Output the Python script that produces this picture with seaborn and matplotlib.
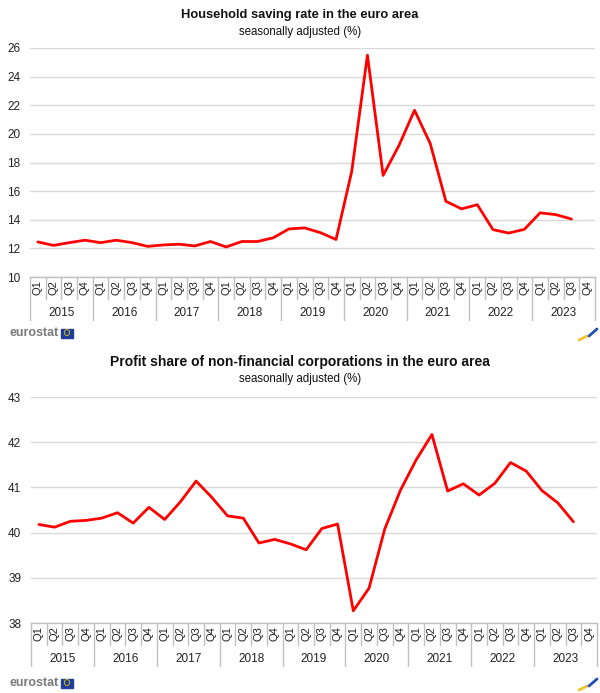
import matplotlib
matplotlib.use("Agg")
import matplotlib.pyplot as plt
import matplotlib.transforms as mtransforms
from matplotlib.patches import Rectangle, Circle
import numpy as np
import seaborn as sns

YEARS = [2015, 2016, 2017, 2018, 2019, 2020, 2021, 2022, 2023]
QUARTERS = ["Q1", "Q2", "Q3", "Q4"]

# household saving rate, % (2015Q1 .. 2023Q3)
SAVING_RATE = [
    12.45, 12.21, 12.40, 12.57,
    12.40, 12.57, 12.40, 12.14,
    12.24, 12.29, 12.17, 12.48,
    12.10, 12.48, 12.48, 12.74,
    13.36, 13.43, 13.10, 12.62,
    17.38, 25.50, 17.10, 19.17,
    21.65, 19.33, 15.29, 14.76,
    15.05, 13.31, 13.07, 13.33,
    14.48, 14.36, 14.05,
]

# profit share of non-financial corporations, % (2015Q1 .. 2023Q3)
PROFIT_SHARE = [
    40.18, 40.12, 40.25, 40.27,
    40.32, 40.44, 40.21, 40.56,
    40.29, 40.68, 41.14, 40.78,
    40.37, 40.32, 39.77, 39.85,
    39.75, 39.62, 40.09, 40.19,
    38.27, 38.77, 40.08, 40.94,
    41.61, 42.17, 40.92, 41.08,
    40.83, 41.09, 41.55, 41.36,
    40.93, 40.66, 40.24,
]

SAVING_TICKS = [10, 12, 14, 16, 18, 20, 22, 24, 26]
PROFIT_TICKS = [38, 39, 40, 41, 42, 43]

W, H = 600, 693
GRID = "#d9d9d9"
FRAME = "#c0c0c0"
RED = "#ff0000"

sns.set_theme(style="white")
plt.rcParams["font.family"] = ["Liberation Sans", "DejaVu Sans"]

fig = plt.figure(figsize=(W / 100, H / 100), dpi=100)


def fig_box(left, top, right, bottom):
    return [left / W, 1 - bottom / H, (right - left) / W, (bottom - top) / H]


def draw_panel(ax, values, ticks, title, title_y, title_size):
    n = len(YEARS) * len(QUARTERS)
    x = np.arange(len(values))
    sns.lineplot(x=x, y=values, ax=ax, color=RED, linewidth=2.0)
    ax.set_xlim(-0.5, n - 0.5)
    ax.set_ylim(ticks[0], ticks[-1])
    ax.set_yticks(ticks)
    ax.set_yticklabels([str(t) for t in ticks], fontsize=8.5, color="#222222")
    ax.tick_params(axis="y", length=0, pad=7)
    ax.set_xticks([])
    ax.set_xlabel("")
    ax.set_ylabel("")
    ax.grid(axis="y", color=GRID, linewidth=1)
    ax.set_axisbelow(True)
    for side in ["left", "right", "top"]:
        ax.spines[side].set_visible(False)
    ax.spines["bottom"].set_color(FRAME)
    ax.spines["bottom"].set_linewidth(1)

    ax_h = ax.get_position().height * H
    trans = mtransforms.blended_transform_factory(ax.transData, ax.transAxes)
    q_row = 22 / ax_h
    y_row = 43 / ax_h

    for i in range(n + 1):
        depth = y_row if i % 4 == 0 else q_row
        ax.plot([i - 0.5, i - 0.5], [0, -depth], transform=trans,
                color=FRAME, linewidth=1, clip_on=False)
    for i in range(n):
        ax.text(i, -3 / ax_h, QUARTERS[i % 4], transform=trans, rotation=90,
                ha="center", va="top", fontsize=8, color="#222222")
    for j, yr in enumerate(YEARS):
        ax.text(j * 4 + 1.5, -36 / ax_h, str(yr), transform=trans,
                ha="center", va="center", fontsize=8.5, color="#222222")

    fig.text(0.5, 1 - title_y / H, title, ha="center", va="center",
             fontsize=title_size, fontweight="bold", color="#111111")
    fig.text(0.5, 1 - (title_y + 17) / H, "seasonally adjusted (%)",
             ha="center", va="center", fontsize=8.3, color="#111111")


def draw_logos(y):
    fig.text(10 / W, 1 - y / H, "eurostat", ha="left", va="center",
             fontsize=9, fontweight="bold", color="#7a7a7a")
    fig.patches.append(Rectangle((61 / W, 1 - (y + 5) / H), 12 / W, 9 / H,
                                 transform=fig.transFigure, color="#1f3d99"))
    fig.patches.append(Circle((67 / W, 1 - (y - 0.5) / H), 2.6 / W,
                              transform=fig.transFigure, fill=False,
                              edgecolor="#e8c800", linewidth=0.6))
    fig.add_artist(plt.Line2D([579 / W, 587 / W], [1 - (y + 7) / H, 1 - (y + 3) / H],
                              transform=fig.transFigure, color="#f2c12e", linewidth=2))
    fig.add_artist(plt.Line2D([589 / W, 597 / W], [1 - (y + 3) / H, 1 - (y - 4) / H],
                              transform=fig.transFigure, color="#1f4fb5", linewidth=2))


ax1 = fig.add_axes(fig_box(30, 48, 595, 277))
draw_panel(ax1, SAVING_RATE, SAVING_TICKS,
           "Household saving rate in the euro area", 15, 9.3)
draw_logos(333)

ax2 = fig.add_axes(fig_box(31, 397, 597, 623))
draw_panel(ax2, PROFIT_SHARE, PROFIT_TICKS,
           "Profit share of non-financial corporations in the euro area", 362, 10)
draw_logos(683)

fig.savefig("out.png", dpi=100)
